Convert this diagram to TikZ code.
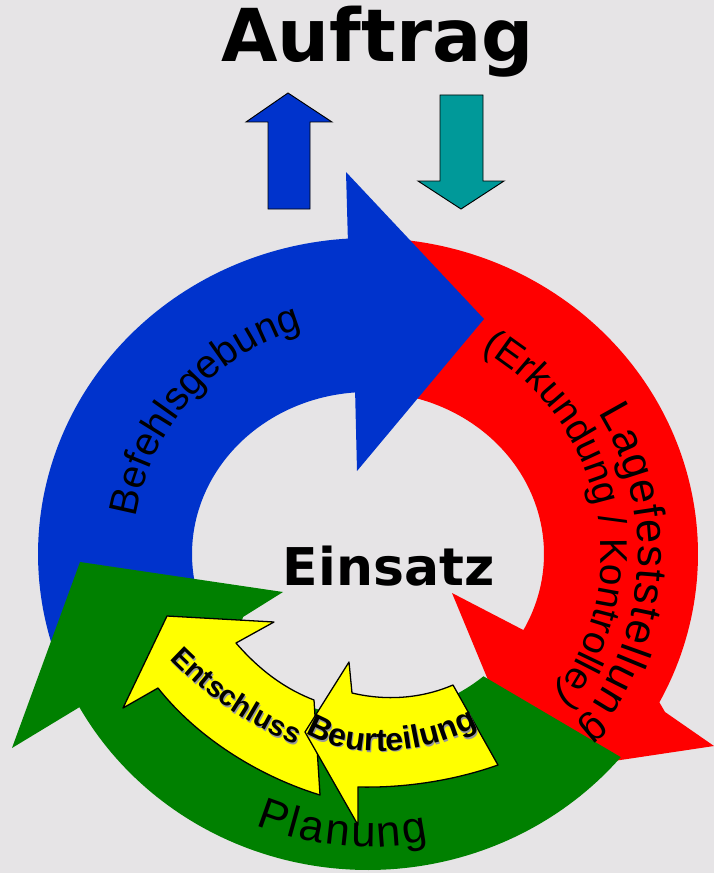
\documentclass[tikz,border=0pt]{standalone}
\usepackage{fontspec}
\newfontfamily\lsans{Liberation Sans}
\newfontfamily\dvs{DejaVu Sans}
\usetikzlibrary{decorations.text}
\definecolor{bgc}{RGB}{230,228,230}
\definecolor{bluec}{RGB}{0,51,204}
\definecolor{redc}{RGB}{255,0,0}
\definecolor{greenc}{RGB}{0,128,0}
\definecolor{yellowc}{RGB}{255,255,0}
\definecolor{tealc}{RGB}{0,153,153}
\tikzset{
  yarrow/.style={fill=yellowc, draw=black, line width=1.1pt, line join=round},
  smallarrow/.style={draw=black, line width=0.8pt, line join=miter},
  bigtitle/.style={font=\dvs\bfseries\fontsize{62.3}{70}\selectfont, anchor=base, inner sep=0pt},
  midtitle/.style={font=\dvs\bfseries\fontsize{44.4}{50}\selectfont, anchor=base, inner sep=0pt},
  looseglyph/.style={font=\lsans\fontsize{34}{38}\selectfont, inner sep=0pt}
}
\begin{document}
\begin{tikzpicture}[x=0.03cm,y=-0.03cm]
\useasboundingbox (0,0) rectangle (714,873);
\fill[bgc] (0,0) rectangle (714,873);
\clip (0,0) rectangle (714,873);

% red arrow (Lagefeststellung)
\fill[redc] plot[domain=92:-28,samples=90] ({368+330*cos(\x)},{554-316*sin(\x)})
  -- (665,712) -- (714,746) -- (527,774) -- (452,593)
  -- plot[domain=-28:92,samples=90] ({368+176*cos(\x)},{554-162*sin(\x)}) -- cycle;

% blue arrow (Befehlsgebung)
\fill[bluec] plot[domain=205:93.5,samples=90] ({368+330*cos(\x)},{554-316*sin(\x)})
  -- (346,172) -- (484,319) -- (357,471)
  -- plot[domain=94.2:205,samples=90] ({368+176*cos(\x)},{554-162*sin(\x)}) -- cycle;

% green arrow (Planung)
\fill[greenc] (80,562) -- (12,748)
  -- plot[domain=209:320,samples=90] ({368+330*cos(\x)},{554-316*sin(\x)})
  -- plot[domain=311:240,samples=90] ({368+176*cos(\x)},{554-162*sin(\x)})
  -- (225,680) -- (243,617) -- (283,592) -- cycle;

% yellow arrows
\draw[yarrow] (167,616) -- (274,622) -- (236,643)
  .. controls (262,673) and (288,690) .. (314,700)
  -- (320,795)
  .. controls (255,775) and (195,735) .. (158,688)
  -- (123,708) -- cycle;
\draw[yarrow] (305,732) -- (349,662) -- (352,693)
  .. controls (390,702) and (425,697) .. (453,685)
  -- (498,765)
  .. controls (450,782) and (400,788) .. (358,787)
  -- (358,825) -- cycle;

% top arrows
\draw[smallarrow, fill=bluec] (288,93) -- (332,122) -- (310,122) -- (310,209)
  -- (268,209) -- (268,122) -- (246,122) -- cycle;
\draw[smallarrow, fill=tealc] (440,95) -- (483,95) -- (483,181) -- (504,181)
  -- (461,209) -- (418,181) -- (440,181) -- cycle;

% titles
\node[bigtitle] (auftrag) at (377.5,62) {Auftrag};
\node[midtitle] (einsatz) at (388.5,585) {Einsatz};

% curved labels
\path[decorate, decoration={text along path,
  text={|\lsans\fontsize{34}{40}\selectfont|Befehlsgebung}, text align={fit to path}}]
  plot[domain=171:107.5,samples=100] ({368+235*cos(\x)},{554-235*sin(\x)});

\path[decorate, decoration={text along path,
  text={|\lsans\fontsize{37.5}{42}\selectfont|Planung}, text align={fit to path}}]
  plot[domain=247.5:282,samples=80] ({368+293*cos(\x)},{554-293*sin(\x)});

\path[decorate, decoration={text along path,
  text={|\lsans\fontsize{37}{42}\selectfont|Lagefeststellun}, text align={fit to path}}]
  plot[domain=31.5:-34,samples=100] ({368+270*cos(\x)},{554-270*sin(\x)});

\path[decorate, decoration={text along path,
  text={|\lsans\fontsize{33}{38}\selectfont|(Erkundung / Kontrolle}, text align={fit to path}}]
  plot[domain=61:-33,samples=120] ({368+233*cos(\x)},{554-233*sin(\x)});

\node[looseglyph, rotate=-150] (closeparen) at (565,696) {)};
\node[looseglyph, rotate=-140] (lastg) at (592,727) {g};

% yellow arrow labels with soft shadow
\path[decorate, decoration={text along path,
  text={|\lsans\bfseries\fontsize{24.5}{29}\selectfont\color{black!40}|Entschluss}}]
  (171,661) .. controls (211,701) and (251,729) .. (313,753);
\path[decorate, decoration={text along path,
  text={|\lsans\bfseries\fontsize{24.5}{29}\selectfont|Entschluss}}]
  (170,659) .. controls (210,699) and (250,727) .. (312,751);
\path[decorate, decoration={text along path,
  text={|\lsans\bfseries\fontsize{27.5}{32}\selectfont\color{black!40}|Beurteilung}}]
  (307,734.5) .. controls (346,759.5) and (421,761.5) .. (489,722.5);
\path[decorate, decoration={text along path,
  text={|\lsans\bfseries\fontsize{27.5}{32}\selectfont|Beurteilung}}]
  (306,733) .. controls (345,758) and (420,760) .. (488,721);
\end{tikzpicture}
\end{document}
